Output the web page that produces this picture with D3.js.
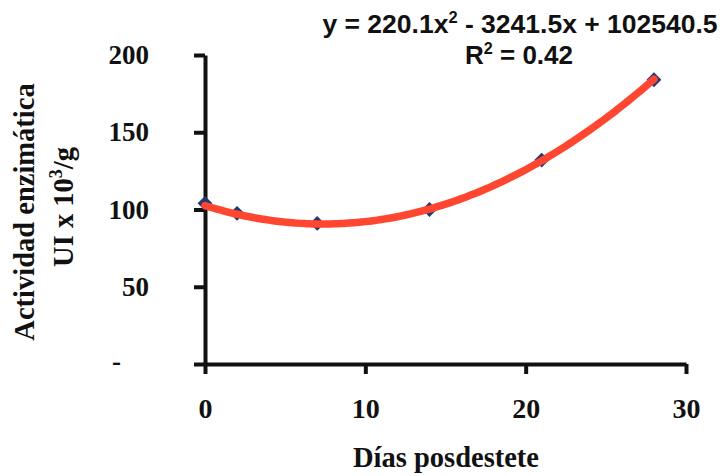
<!DOCTYPE html>
<html>
<head>
<meta charset="utf-8">
<script src="https://cdn.jsdelivr.net/npm/d3@7"></script>
<style>
  body { margin: 0; background: #fff; }
  .serif { font-family: "Liberation Serif", "Times New Roman", serif; font-weight: bold; fill: #111; }
  .sans { font-family: "Liberation Sans", Arial, sans-serif; font-weight: bold; fill: #111; }
</style>
</head>
<body>
<svg id="chart" width="722" height="476"></svg>
<script>
// data (activity in UI x 10^3/g)
const days = [0, 2, 7, 14, 21, 28];
const activity = [104, 97.5, 91, 100, 132, 184];
const xTicks = [0, 10, 20, 30];
const yTicks = [0, 50, 100, 150, 200];
const yTickLabels = ["-", "50", "100", "150", "200"];
// trend y = a*x^2 + b*x + c, as printed on the chart (UI/g)
const trendCoef = [220.1, -3241.5, 102540.5];
const eqParts = ["y = 220.1x", "2", " - 3241.5x + 102540.5"];
const r2Parts = ["R", "2", " = 0.42"];
const xTitle = "Días posdestete";
const yTitle = ["Actividad enzimática", "UI x 10", "3", "/g"];

const svg = d3.select("#chart");

const x = d3.scaleLinear().domain([0, 30]).range([205, 686]);
const y = d3.scaleLinear().domain([0, 200]).range([364, 55]);

// y axis
const yAxis = svg.append("g")
    .attr("transform", "translate(" + x(0) + ",0)")
    .call(d3.axisLeft(y).tickValues(yTicks).tickSize(11).tickSizeOuter(0).tickPadding(45)
        .tickFormat((d, i) => yTickLabels[i]));
// x axis
const xAxis = svg.append("g")
    .attr("transform", "translate(0," + y(0) + ")")
    .call(d3.axisBottom(x).tickValues(xTicks).tickSize(10).tickSizeOuter(0).tickPadding(24)
        .tickFormat(d3.format("d")));

[yAxis, xAxis].forEach(g => {
    g.select(".domain").attr("stroke", "#111").attr("stroke-width", 4);
    g.selectAll(".tick line").attr("stroke", "#111").attr("stroke-width", 4);
    g.selectAll(".tick text").attr("class", "serif").attr("font-size", 28).attr("fill", "#111");
});
yAxis.selectAll(".tick text").attr("font-size", 27);
// the zero label is a dash set further left (accounting style)
yAxis.selectAll(".tick text").filter(d => d === 0).attr("x", -84).attr("dy", "0.2em");

// trend curve
const poly = t => (trendCoef[0] * t * t + trendCoef[1] * t + trendCoef[2]) / 1000;
const curveX = d3.range(0, 28.001, 0.25);

// markers
svg.append("g").selectAll("path")
    .data(days)
    .join("path")
    .attr("d", d3.symbol(d3.symbolSquare, 110))
    .attr("transform", (d, i) => "translate(" + x(d) + "," + y(activity[i]) + ") rotate(45)")
    .attr("fill", "#28366e");

svg.append("path")
    .datum(curveX)
    .attr("d", d3.line().x(d => x(d)).y(d => y(poly(d))).curve(d3.curveBasis))
    .attr("fill", "none")
    .attr("stroke", "#ff4630")
    .attr("stroke-width", 7.5)
    .attr("stroke-linecap", "round");

// equation labels
function supText(parts, px, py, size, anchor) {
    const t = svg.append("text").attr("class", "sans").attr("x", px).attr("y", py)
        .attr("font-size", size).attr("text-anchor", anchor);
    t.append("tspan").text(parts[0]);
    t.append("tspan").attr("dy", -10).attr("font-size", size * 0.62).text(parts[1]);
    t.append("tspan").attr("dy", 10).text(parts[2]);
    return t;
}
supText(eqParts, 520, 33, 26.5, "middle");
supText(r2Parts, 519, 64, 26, "middle");

// axis titles
svg.append("text").attr("class", "serif").attr("font-size", 28.5)
    .attr("x", 446).attr("y", 467).attr("text-anchor", "middle").text(xTitle);

const yt = svg.append("g").attr("transform", "rotate(-90)");
yt.append("text").attr("class", "serif").attr("font-size", 28.5)
    .attr("x", -212).attr("y", 34).attr("text-anchor", "middle").text(yTitle[0]);
const yt2 = yt.append("text").attr("class", "serif").attr("font-size", 28.5)
    .attr("x", -207).attr("y", 73).attr("text-anchor", "middle");
yt2.append("tspan").text(yTitle[1]);
yt2.append("tspan").attr("dy", -11).attr("font-size", 18).text(yTitle[2]);
yt2.append("tspan").attr("dy", 11).text(yTitle[3]);
</script>
</body>
</html>
